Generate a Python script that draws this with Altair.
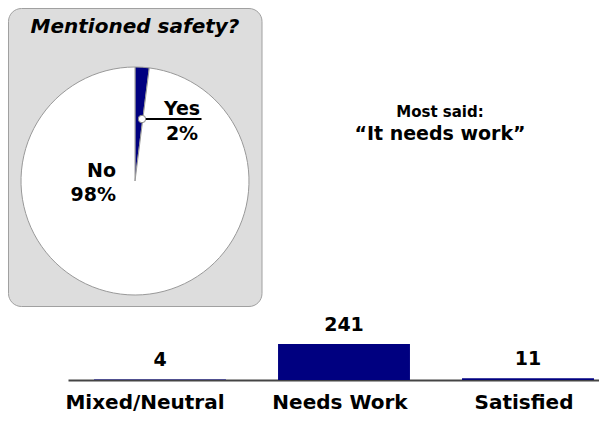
import altair as alt
import pandas as pd

# ---- data ----
categories = ["Mixed/Neutral", "Needs Work", "Satisfied"]
counts = [4, 241, 11]
pie_labels = ["Yes", "No"]
pie_pcts = [2, 98]
title_text = "Mentioned safety?"
most_said = "Most said:"
quote_text = "\u201cIt needs work\u201d"

NAVY = "#000080"
FONT = "DejaVu Sans"

bars_df = pd.DataFrame({"cat": categories, "n": counts})
pie_df = pd.DataFrame({"ans": pie_labels, "pct": pie_pcts,
                       "ord": list(range(len(pie_labels)))})
one = pd.DataFrame({"k": [0]})


def label(text, x, y, size, align="center", italic=False):
    return alt.Chart(pd.DataFrame({"t": [text]})).mark_text(
        font=FONT, fontSize=size, fontWeight="bold",
        fontStyle="italic" if italic else "normal",
        align=align, baseline="alphabetic", color="black"
    ).encode(x=alt.value(x), y=alt.value(y), text="t:N")


panel = alt.Chart(one).mark_rect(
    fill="#dddddd", stroke="#a0a0a0", strokeWidth=1, cornerRadius=13
).encode(x=alt.value(-59.5), x2=alt.value(194), y=alt.value(-335.5), y2=alt.value(-37.5))

pie = alt.Chart(pie_df).mark_arc(radius=114, stroke="#999999", strokeWidth=1).encode(
    theta=alt.Theta("pct:Q", stack=True),
    order=alt.Order("ord:Q"),
    color=alt.Color("ans:N", scale=alt.Scale(domain=pie_labels, range=[NAVY, "#ffffff"]),
                    legend=None),
    x=alt.value(67), y=alt.value(-163),
)

leader = alt.Chart(one).mark_rule(color="black", strokeWidth=2).encode(
    x=alt.value(74), x2=alt.value(133.5), y=alt.value(-225))
dot = alt.Chart(one).mark_point(filled=True, fill="white", stroke="#888888",
                                strokeWidth=1, size=55, shape="circle", opacity=1).encode(
    x=alt.value(74), y=alt.value(-225))

x_enc = alt.X("cat:N", sort=categories,
              scale=alt.Scale(range=[0, 552], paddingInner=0.283, paddingOuter=0.1415),
              axis=alt.Axis(title=None, ticks=False, grid=False,
                            domainColor="#444444", domainWidth=2,
                            labelFont=FONT, labelFontSize=20, labelFontWeight="bold",
                            labelColor="black", labelAngle=0, labelBaseline="alphabetic",
                            labelPadding=28, labelOverlap=False, labelLimit=400,
                            labelOffset={"condition": {"test": "datum.value === 'Mixed/Neutral'",
                                                       "value": -15}, "value": -4}))
y_enc = alt.Y("n:Q", scale=alt.Scale(nice=False, zero=True), axis=None)

bars = alt.Chart(bars_df).mark_bar(color=NAVY).encode(x=x_enc, y=y_enc)
bar_text = alt.Chart(bars_df).mark_text(
    font=FONT, fontSize=19, fontWeight="bold", color="black",
    baseline="alphabetic", dy=-13).encode(x=x_enc, y=y_enc, text="n:Q")

chart = alt.layer(
    panel, pie, leader, dot,
    label(title_text, 67, -311.5, 20, italic=True),
    label("Yes", 114, -229, 19),
    label("2%", 114, -204, 19),
    label("No", 48, -167, 19, align="right"),
    label("98%", 48, -143, 19, align="right"),
    label(most_said, 372, -227, 15),
    label(quote_text, 372, -204, 19),
    bars, bar_text,
).properties(
    width=531, height=36,
    padding={"left": 60, "top": 336, "right": 0, "bottom": 33},
    autosize=alt.AutoSizeParams(type="none"),
).configure_view(stroke=None)

chart.save("out.html", embed_options={"renderer": "svg", "actions": False})
